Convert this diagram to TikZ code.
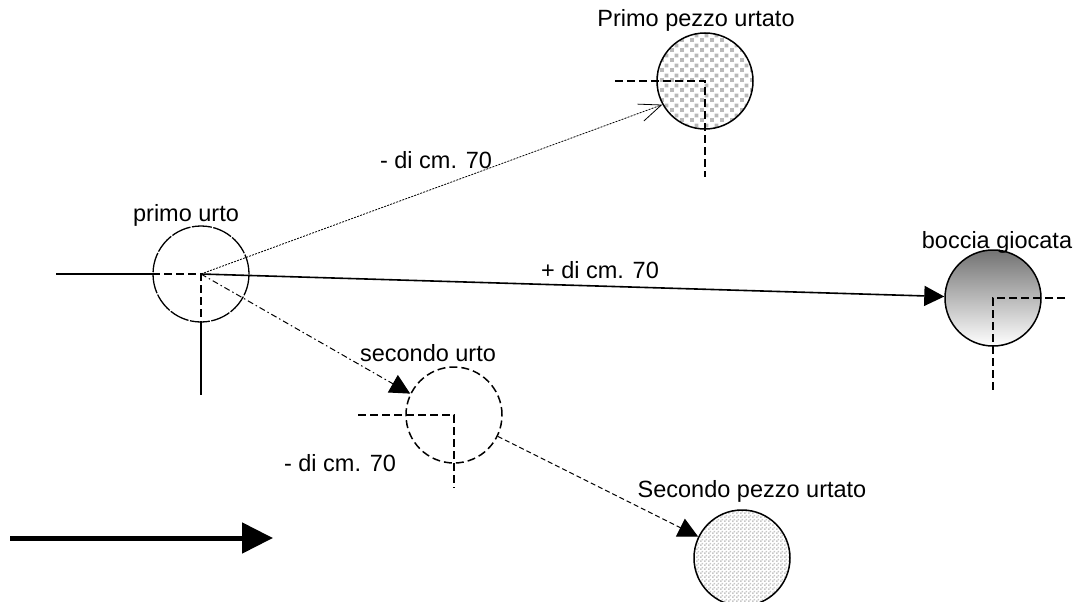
\documentclass[tikz,border=0pt]{standalone}
\usepackage{fontspec}
\setmainfont{Liberation Sans}
\usetikzlibrary{arrows.meta,patterns.meta}
\tikzdeclarepattern{name=bigsq, type=uncolored, bounding box={(0pt,0pt) and (10pt,10pt)}, tile size={(10pt,10pt)}, code={\fill (0pt,0pt) rectangle (4.2pt,4.2pt); \fill (5pt,5pt) rectangle (9.2pt,9.2pt);}}
\tikzdeclarepattern{name=finechk, type=uncolored, bounding box={(0pt,0pt) and (4pt,4pt)}, tile size={(4pt,4pt)}, code={\fill (0pt,0pt) rectangle (2pt,2pt); \fill (2pt,2pt) rectangle (4pt,4pt);}}
\begin{document}
\begin{tikzpicture}[x=1pt,y=-1pt,
  ball/.style={circle, minimum size=96pt, inner sep=0pt, line width=1.5pt},
  lbl/.style={font=\fontsize{23.5}{28}\selectfont, inner sep=0pt},
  dsh/.style={dash pattern=on 8pt off 4pt, line width=1.8pt},
  solidln/.style={line width=1.5pt}]
\useasboundingbox (0,0) rectangle (1074,602);
% balls
\node[ball, draw, line width=1.3pt, dash pattern=on 20pt off 1.5pt] (pu) at (201,274) {};
\node[ball, draw, pattern={bigsq}, pattern color=gray!55] (pp1) at (705,81) {};
\node[ball, draw, top color=black!55, bottom color=white] (bg) at (993,298) {};
\node[ball, draw, dash pattern=on 8pt off 4pt] (su) at (454,415) {};
\node[ball, draw, pattern={finechk}, pattern color=gray!45] (sp2) at (742,558) {};
% crosshairs
\draw[solidln] (pu.west) -- ++(-96,0);
\draw[dsh] (pu.west) -- (pu.center) -- (pu.south);
\draw[solidln] (pu.south) -- ++(0,72);
\draw[dsh] ([xshift=-90pt]pp1.center) -- (pp1.center) -- ++(0,96);
\draw[dsh] ([xshift=72pt]bg.center) -- (bg.center) -- ++(0,95);
\draw[dsh] ([xshift=-96pt]su.center) -- (su.center) -- ++(0,73);
% connectors
\draw[line width=0.8pt, dash pattern=on 2pt off 1.2pt, -{Straight Barb[length=22pt,width=18pt,line width=0.8pt]}] (pu.center) -- (pp1.209);
\draw[line width=1.6pt, -{Triangle[length=20pt,width=20pt]}] (pu.center) -- (bg);
\draw[line width=1pt, dash pattern=on 6pt off 3pt on 1.5pt off 3pt, -{Triangle[length=20pt,width=20pt]}] (pu.center) -- (su.154);
\draw[line width=1pt, dash pattern=on 5pt off 3pt, -{Triangle[length=20pt,width=20pt]}] (su.-26) -- (sp2.154);
% big arrow
\coordinate (b1) at (10,538);
\coordinate (b2) at (273,538);
\draw[line width=5pt, -{Triangle[length=31pt,width=30pt]}] (b1) -- (b2);
% labels
\node[lbl] (t1) at (696,20) {Primo pezzo urtato};
\node[lbl] (t2) at (436,160) {- di cm. 70};
\node[lbl] (t3) at (186,215) {primo urto};
\node[lbl] (t4) at (600,270) {+ di cm. 70};
\node[lbl] (t5) at (997,242) {boccia giocata};
\node[lbl] (t6) at (428,353) {secondo urto};
\node[lbl] (t7) at (340,463) {- di cm. 70};
\node[lbl] (t8) at (752,491) {Secondo pezzo urtato};
\end{tikzpicture}
\end{document}
